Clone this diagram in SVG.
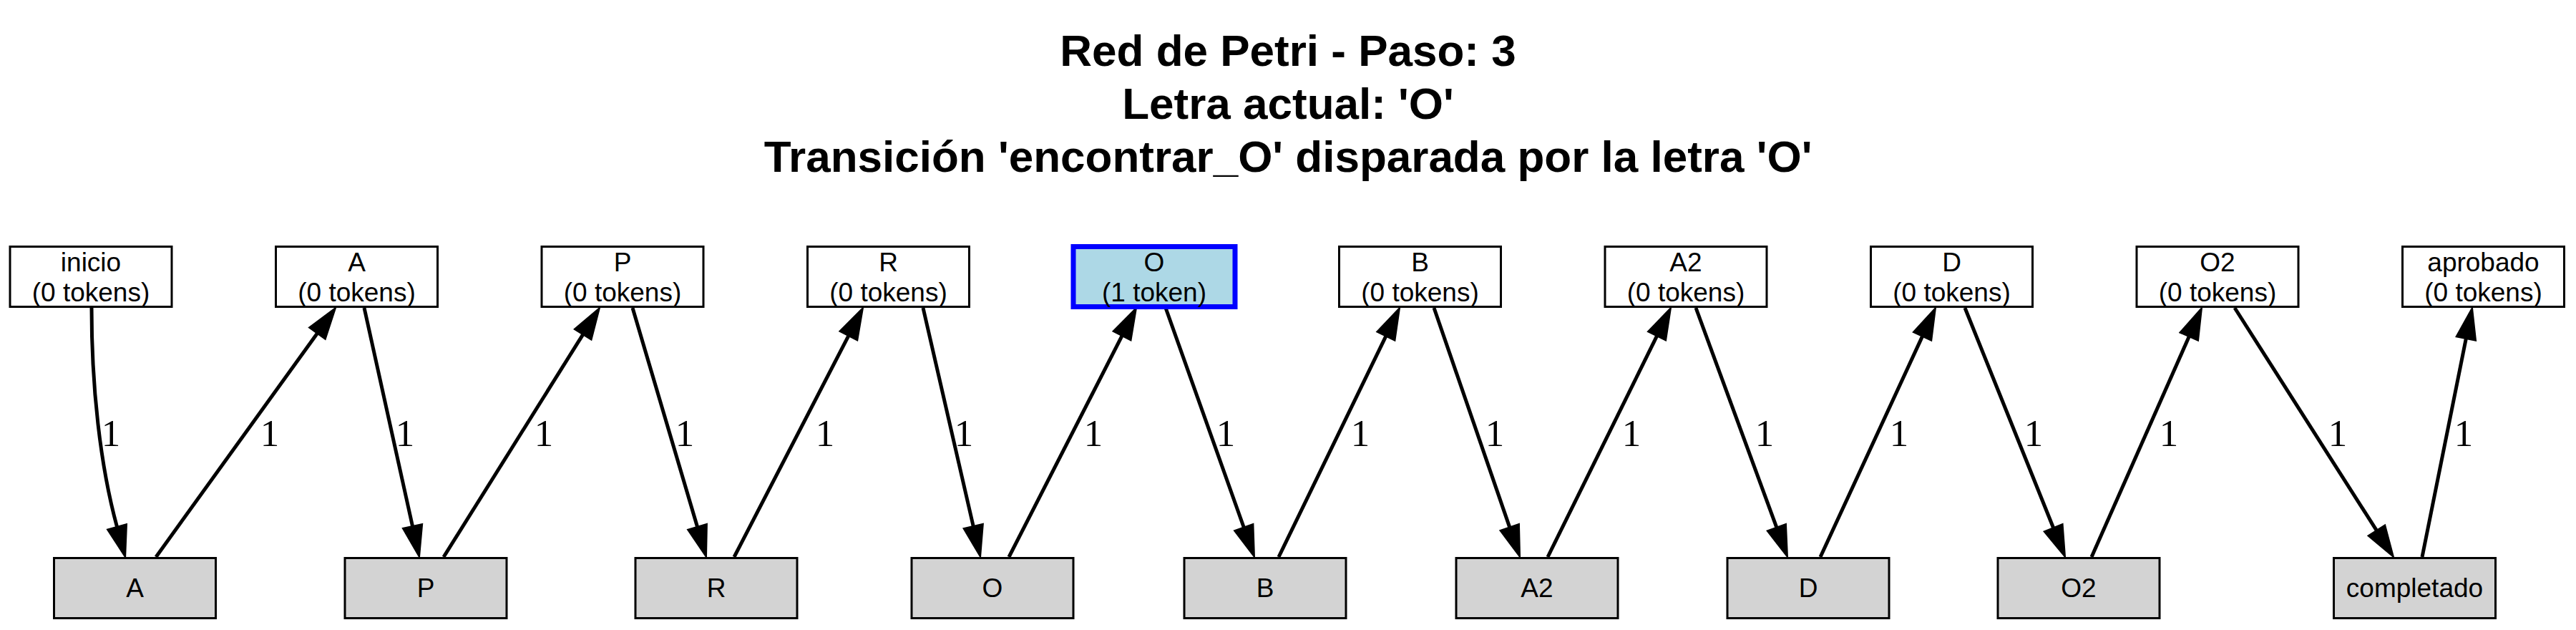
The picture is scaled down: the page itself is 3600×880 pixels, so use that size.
<svg xmlns="http://www.w3.org/2000/svg" width="3600" height="880" viewBox="0 0 3600 880">
<defs>
<marker id="ah" markerUnits="userSpaceOnUse" markerWidth="50" markerHeight="36" viewBox="-2 -16 50 32" refX="0" refY="0" orient="auto" overflow="visible">
<path d="M0,-14 L44,0 L0,14 Z" fill="#000" stroke="#000" stroke-width="2" stroke-linejoin="miter"/>
</marker>
<style>
.title{font-family:"Liberation Sans",Arial,sans-serif;font-weight:bold;font-size:62px;fill:#000;text-anchor:middle}
.place rect{fill:#fff;stroke:#000;stroke-width:3}
.place.active rect{fill:#ADD8E6;stroke:#0000FF;stroke-width:7}
.trans rect{fill:#D3D3D3;stroke:#000;stroke-width:3}
.nt{font-family:"Liberation Sans",Arial,sans-serif;font-size:37px;fill:#000;text-anchor:middle}
.edge{fill:none;stroke:#000;stroke-width:5;marker-end:url(#ah)}
.lbl{font-family:"Liberation Serif","Times New Roman",serif;font-size:53px;fill:#000;text-anchor:middle}
</style>
</defs>
<rect x="0" y="0" width="3600" height="880" fill="#fff"/>
<g id="title">
<text class="title" x="1800" y="92">Red de Petri - Paso: 3</text>
<text class="title" x="1800" y="166">Letra actual: 'O'</text>
<text class="title" x="1800" y="240">Transición 'encontrar_O' disparada por la letra 'O'</text>
</g>
<g id="connectors">
<path class="edge" d="M128,430 C128,540 140,650 163.5,735.8"/>
<path class="edge" d="M218,778 L443.3,465.7"/>
<path class="edge" d="M509,430 L576.5,735"/>
<path class="edge" d="M620,778 L814.6,467.3"/>
<path class="edge" d="M884,430 L974.5,735.8"/>
<path class="edge" d="M1026,778 L1185.8,469.1"/>
<path class="edge" d="M1290,430 L1360.2,735"/>
<path class="edge" d="M1410,778 L1568,469.2"/>
<path class="edge" d="M1629,430 L1738.2,736.5"/>
<path class="edge" d="M1787,778 L1936.8,469.6"/>
<path class="edge" d="M2004,430 L2109.7,736.4"/>
<path class="edge" d="M2163,778 L2315.5,469.4"/>
<path class="edge" d="M2370,430 L2482.8,736.7"/>
<path class="edge" d="M2544,778 L2686.5,469.9"/>
<path class="edge" d="M2746,430 L2869.6,737.2"/>
<path class="edge" d="M2923,778 L3059.2,470.2"/>
<path class="edge" d="M3123,430 L3321.3,740.9"/>
<path class="edge" d="M3385,778 L3446.3,473.1"/>
<text class="lbl" x="155" y="623">1</text>
<text class="lbl" x="377" y="623">1</text>
<text class="lbl" x="566" y="623">1</text>
<text class="lbl" x="760" y="623">1</text>
<text class="lbl" x="957" y="623">1</text>
<text class="lbl" x="1153" y="623">1</text>
<text class="lbl" x="1347" y="623">1</text>
<text class="lbl" x="1528" y="623">1</text>
<text class="lbl" x="1713" y="623">1</text>
<text class="lbl" x="1901" y="623">1</text>
<text class="lbl" x="2089" y="623">1</text>
<text class="lbl" x="2280" y="623">1</text>
<text class="lbl" x="2466" y="623">1</text>
<text class="lbl" x="2654" y="623">1</text>
<text class="lbl" x="2842" y="623">1</text>
<text class="lbl" x="3031" y="623">1</text>
<text class="lbl" x="3267" y="623">1</text>
<text class="lbl" x="3443" y="623">1</text>
</g>
<g id="p_inicio" class="place"><rect x="14" y="344.5" width="226" height="84"/><text class="nt" x="127" y="379">inicio</text><text class="nt" x="127" y="421">(0 tokens)</text></g>
<g id="p_A" class="place"><rect x="385.5" y="344.5" width="226" height="84"/><text class="nt" x="498.5" y="379">A</text><text class="nt" x="498.5" y="421">(0 tokens)</text></g>
<g id="p_P" class="place"><rect x="757" y="344.5" width="226" height="84"/><text class="nt" x="870" y="379">P</text><text class="nt" x="870" y="421">(0 tokens)</text></g>
<g id="p_R" class="place"><rect x="1128.5" y="344.5" width="226" height="84"/><text class="nt" x="1241.5" y="379">R</text><text class="nt" x="1241.5" y="421">(0 tokens)</text></g>
<g id="p_O" class="place active"><rect x="1500" y="344.5" width="226" height="84"/><text class="nt" x="1613" y="379">O</text><text class="nt" x="1613" y="421">(1 token)</text></g>
<g id="p_B" class="place"><rect x="1871.5" y="344.5" width="226" height="84"/><text class="nt" x="1984.5" y="379">B</text><text class="nt" x="1984.5" y="421">(0 tokens)</text></g>
<g id="p_A2" class="place"><rect x="2243" y="344.5" width="226" height="84"/><text class="nt" x="2356" y="379">A2</text><text class="nt" x="2356" y="421">(0 tokens)</text></g>
<g id="p_D" class="place"><rect x="2614.5" y="344.5" width="226" height="84"/><text class="nt" x="2727.5" y="379">D</text><text class="nt" x="2727.5" y="421">(0 tokens)</text></g>
<g id="p_O2" class="place"><rect x="2986" y="344.5" width="226" height="84"/><text class="nt" x="3099" y="379">O2</text><text class="nt" x="3099" y="421">(0 tokens)</text></g>
<g id="p_aprobado" class="place"><rect x="3357.5" y="344.5" width="226" height="84"/><text class="nt" x="3470.5" y="379">aprobado</text><text class="nt" x="3470.5" y="421">(0 tokens)</text></g>
<g id="t_A" class="trans"><rect x="75.5" y="779.5" width="226" height="84"/><text class="nt" x="188.5" y="834">A</text></g>
<g id="t_P" class="trans"><rect x="482" y="779.5" width="226" height="84"/><text class="nt" x="595" y="834">P</text></g>
<g id="t_R" class="trans"><rect x="888" y="779.5" width="226" height="84"/><text class="nt" x="1001" y="834">R</text></g>
<g id="t_O" class="trans"><rect x="1274" y="779.5" width="226" height="84"/><text class="nt" x="1387" y="834">O</text></g>
<g id="t_B" class="trans"><rect x="1655" y="779.5" width="226" height="84"/><text class="nt" x="1768" y="834">B</text></g>
<g id="t_A2" class="trans"><rect x="2035" y="779.5" width="226" height="84"/><text class="nt" x="2148" y="834">A2</text></g>
<g id="t_D" class="trans"><rect x="2414" y="779.5" width="226" height="84"/><text class="nt" x="2527" y="834">D</text></g>
<g id="t_O2" class="trans"><rect x="2792" y="779.5" width="226" height="84"/><text class="nt" x="2905" y="834">O2</text></g>
<g id="t_completado" class="trans"><rect x="3261.5" y="779.5" width="226" height="84"/><text class="nt" x="3374.5" y="834">completado</text></g>
</svg>
